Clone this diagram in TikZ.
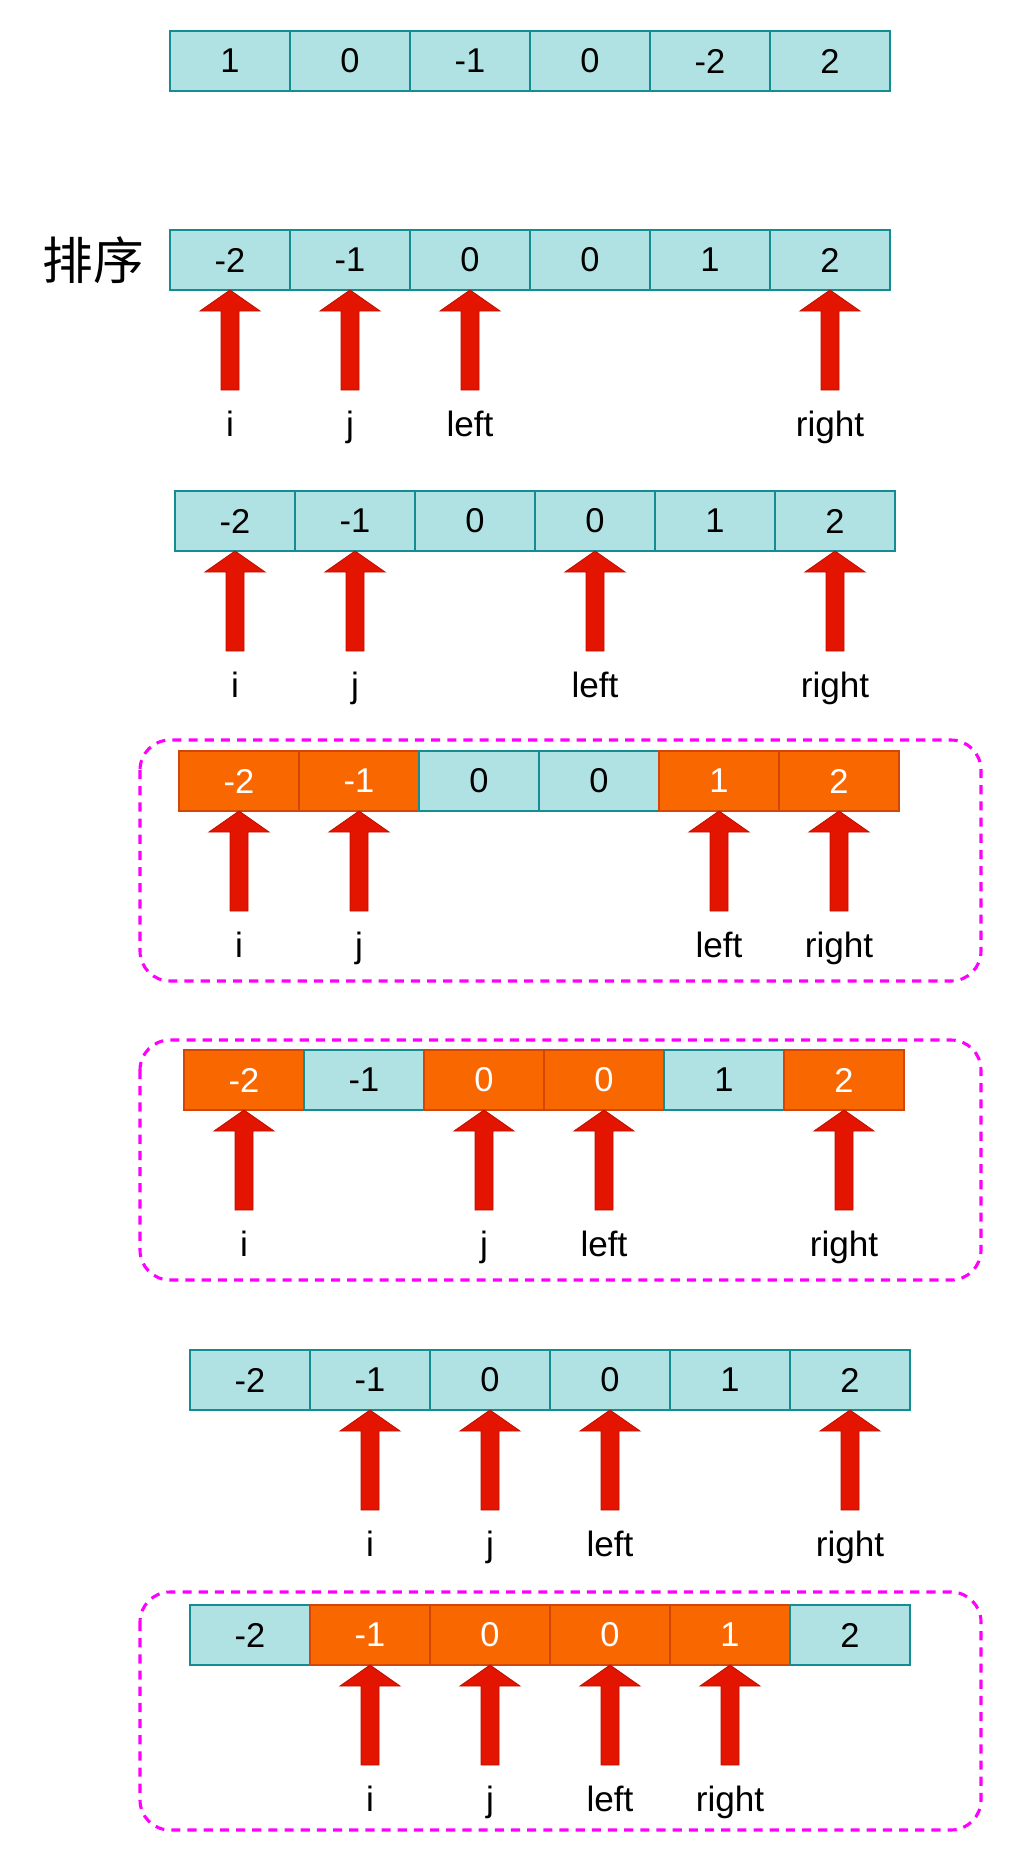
\documentclass[tikz,border=0pt]{standalone}
\usepackage{fontspec}
\setmainfont{Liberation Sans}
\newfontfamily\cjkfont{Noto Sans CJK SC}
\usetikzlibrary{positioning}

\definecolor{cellblue}{RGB}{176,226,228}
\definecolor{celledge}{RGB}{20,140,145}
\definecolor{hotfill}{RGB}{249,104,0}
\definecolor{hotedge}{RGB}{210,70,10}
\definecolor{ptrred}{RGB}{227,20,0}
\definecolor{ptredge}{RGB}{190,15,0}
\definecolor{boxpink}{RGB}{255,0,255}

\tikzset{
  cell/.style={draw=celledge, fill=cellblue, line width=0.9pt, minimum width=3cm,
    minimum height=1.5cm, inner sep=0pt, outer sep=0pt, anchor=north west,
    font=\fontsize{24.5}{24.5}\selectfont},
  hot/.style={cell, draw=hotedge, fill=hotfill, text=white},
  ptr/.style={fill=ptrred, draw=ptredge, line width=0.6pt},
  ptrlabel/.style={anchor=base, font=\fontsize{25}{25}\selectfont},
  groupbox/.style={draw=boxpink, dash pattern=on 6.5pt off 5pt, line width=2.2pt, rounded corners=0.75cm},
}

\begin{document}
\begin{tikzpicture}[x=0.025cm, y=-0.025cm]
    \useasboundingbox (0,0) rectangle (1012,1862);

    % Original array
    \foreach \v [count=\k] in {1,0,-1,0,-2,2}
        \node[cell] (a\k) at ({170+(\k-1)*120},31) {\v};

    % Sorted array with pointers
    \foreach \v [count=\k] in {-2,-1,0,0,1,2}
        \node[cell] (b\k) at ({170+(\k-1)*120},230) {\v};
    \node[font=\cjkfont\fontsize{36}{36}\selectfont, inner sep=0pt, left=0.65cm of b1] (sorted) {排序};
    \foreach \k/\t in {1/i,2/j,3/left,6/right} {
        \draw[ptr] (b\k.south) -- ++(30,21) -- ++(-21,0) -- ++(0,79) -- ++(-18,0) -- ++(0,-79) -- ++(-21,0) -- cycle;
        \node[ptrlabel] (bl\k) at ([yshift=-3.65cm]b\k.south) {\t};
    }

    % left moves on
    \foreach \v [count=\k] in {-2,-1,0,0,1,2}
        \node[cell] (c\k) at ({175+(\k-1)*120},491) {\v};
    \foreach \k/\t in {1/i,2/j,4/left,6/right} {
        \draw[ptr] (c\k.south) -- ++(30,21) -- ++(-21,0) -- ++(0,79) -- ++(-18,0) -- ++(0,-79) -- ++(-21,0) -- cycle;
        \node[ptrlabel] (cl\k) at ([yshift=-3.65cm]c\k.south) {\t};
    }

    % first quadruple
    \draw[groupbox] (140,740) rectangle (981,981);
    \foreach \v/\s [count=\k] in {-2/hot,-1/hot,0/cell,0/cell,1/hot,2/hot}
        \node[\s] (d\k) at ({179+(\k-1)*120},751) {\v};
    \foreach \k/\t in {1/i,2/j,5/left,6/right} {
        \draw[ptr] (d\k.south) -- ++(30,21) -- ++(-21,0) -- ++(0,79) -- ++(-18,0) -- ++(0,-79) -- ++(-21,0) -- cycle;
        \node[ptrlabel] (dl\k) at ([yshift=-3.65cm]d\k.south) {\t};
    }

    % j moves on
    \draw[groupbox] (140,1040) rectangle (981,1280);
    \foreach \v/\s [count=\k] in {-2/hot,-1/cell,0/hot,0/hot,1/cell,2/hot}
        \node[\s] (e\k) at ({184+(\k-1)*120},1050) {\v};
    \foreach \k/\t in {1/i,3/j,4/left,6/right} {
        \draw[ptr] (e\k.south) -- ++(30,21) -- ++(-21,0) -- ++(0,79) -- ++(-18,0) -- ++(0,-79) -- ++(-21,0) -- cycle;
        \node[ptrlabel] (el\k) at ([yshift=-3.65cm]e\k.south) {\t};
    }

    % i moves on
    \foreach \v [count=\k] in {-2,-1,0,0,1,2}
        \node[cell] (f\k) at ({190+(\k-1)*120},1350) {\v};
    \foreach \k/\t in {2/i,3/j,4/left,6/right} {
        \draw[ptr] (f\k.south) -- ++(30,21) -- ++(-21,0) -- ++(0,79) -- ++(-18,0) -- ++(0,-79) -- ++(-21,0) -- cycle;
        \node[ptrlabel] (fl\k) at ([yshift=-3.65cm]f\k.south) {\t};
    }

    % second quadruple
    \draw[groupbox] (140,1592) rectangle (981,1830);
    \foreach \v/\s [count=\k] in {-2/cell,-1/hot,0/hot,0/hot,1/hot,2/cell}
        \node[\s] (g\k) at ({190+(\k-1)*120},1605) {\v};
    \foreach \k/\t in {2/i,3/j,4/left,5/right} {
        \draw[ptr] (g\k.south) -- ++(30,21) -- ++(-21,0) -- ++(0,79) -- ++(-18,0) -- ++(0,-79) -- ++(-21,0) -- cycle;
        \node[ptrlabel] (gl\k) at ([yshift=-3.65cm]g\k.south) {\t};
    }

\end{tikzpicture}
\end{document}
